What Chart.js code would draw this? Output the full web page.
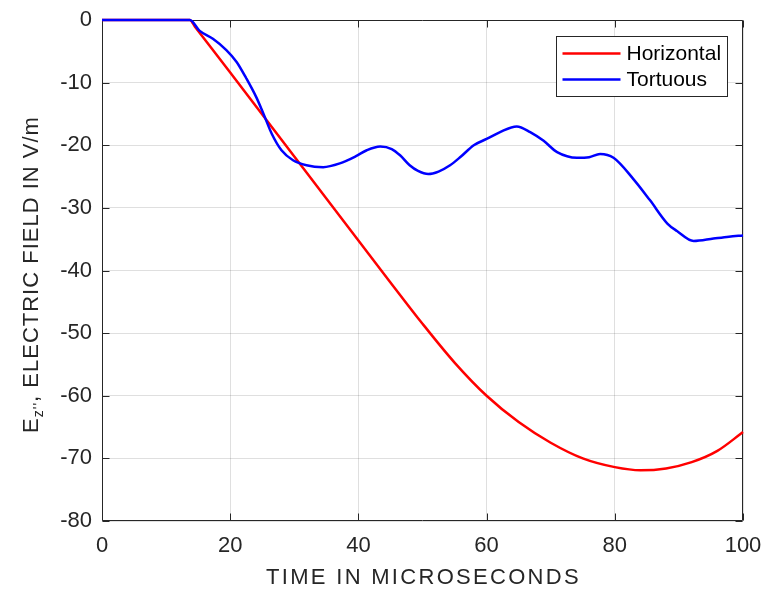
<!DOCTYPE html>
<html>
<head>
<meta charset="utf-8">
<script src="https://cdn.jsdelivr.net/npm/chart.js@4.4.1/dist/chart.umd.min.js"></script>
<style>
  html, body { margin: 0; padding: 0; background: #fff; }
  #wrap { width: 763px; height: 590px; }
</style>
</head>
<body>
<div id="wrap"><canvas id="efield"></canvas></div>
<script>
const SERIES_LABELS = ['Horizontal', 'Tortuous'];

// time in microseconds / field in V/m
const horizontalTime = [0, 13.7, 14.5, 20, 25, 30, 35, 40, 45, 50, 55, 60, 65, 70, 75, 80, 84, 88, 92, 96, 100];
const horizontalField = [0, 0, -1.07, -8.4, -15.1, -21.8, -28.5, -35.2, -41.9, -48.5, -54.7, -60.0, -64.2, -67.5, -70.0, -71.4, -71.9, -71.6, -70.6, -68.8, -65.8];

const tortuousTime = [0, 13.7, 15.2, 17.3, 19.4, 21.0, 22.5, 24.1, 25.2, 26.5, 28.0, 29.8, 31.9, 34.5, 37.1, 39.7, 41.3, 43.4, 45.2, 46.5, 48.0, 49.3, 50.9, 52.5, 54.3, 56.0, 58.0, 60.0, 62.1, 64.7, 66.8, 68.9, 71.0, 74.1, 76.0, 77.7, 79.8, 82.9, 85.5, 88.2, 89.7, 92.3, 95.4, 97.8, 100];
const tortuousField = [0, 0, -1.7, -3.0, -4.8, -6.7, -9.3, -12.4, -15.0, -18.2, -20.8, -22.4, -23.2, -23.5, -22.9, -21.7, -20.8, -20.2, -20.6, -21.6, -23.2, -24.1, -24.6, -24.2, -23.2, -21.8, -20.0, -19.0, -17.9, -17.0, -17.9, -19.3, -21.1, -22.0, -21.9, -21.4, -22.0, -25.4, -28.8, -32.5, -33.7, -35.3, -34.9, -34.6, -34.4];

const X_TICKS = [0, 20, 40, 60, 80, 100];
const Y_TICKS = [-80, -70, -60, -50, -40, -30, -20, -10, 0];

const FONT = '"Liberation Sans", Arial, Helvetica, sans-serif';
const AXIS_COLOR = '#262626';

const toPoints = (xs, ys) => xs.map((t, i) => ({ x: t, y: ys[i] }));

// MATLAB-style box, inward ticks, legend and axis titles
const matlabAxes = {
  id: 'matlabAxes',
  beforeDatasetsDraw(chart) {
    const { ctx, chartArea: a, scales } = chart;
    const L = Math.round(a.left) + 0.5, R = Math.round(a.right) - 0.5;
    const T = Math.round(a.top) + 0.5, B = Math.round(a.bottom) - 0.5;
    ctx.save();
    ctx.strokeStyle = AXIS_COLOR;
    ctx.lineWidth = 1;
    ctx.beginPath();
    ctx.rect(L, T, R - L, B - T);
    X_TICKS.forEach(v => {
      const px = Math.round(scales.x.getPixelForValue(v)) + 0.5;
      ctx.moveTo(px, B); ctx.lineTo(px, B - 7);
      ctx.moveTo(px, T); ctx.lineTo(px, T + 7);
    });
    Y_TICKS.forEach(v => {
      const py = Math.round(scales.y.getPixelForValue(v)) + 0.5;
      ctx.moveTo(L, py); ctx.lineTo(L + 7, py);
      ctx.moveTo(R, py); ctx.lineTo(R - 7, py);
    });
    ctx.stroke();
    ctx.restore();
  },
  afterDraw(chart) {
    const { ctx, chartArea: a } = chart;
    ctx.save();

    // legend
    const bw = 171, bh = 60;
    const bx = Math.round(a.right) - 16 - bw + 0.5, by = Math.round(a.top) + 16 + 0.5;
    ctx.fillStyle = '#fff';
    ctx.fillRect(bx, by, bw, bh);
    ctx.strokeStyle = AXIS_COLOR;
    ctx.lineWidth = 1;
    ctx.strokeRect(bx, by, bw, bh);
    ctx.font = '21px ' + FONT;
    ctx.textBaseline = 'middle';
    ctx.textAlign = 'left';
    chart.data.datasets.forEach((ds, i) => {
      const cy = by + 17 + i * 26;
      ctx.strokeStyle = ds.borderColor;
      ctx.lineWidth = 2.5;
      ctx.beginPath();
      ctx.moveTo(bx + 6, cy); ctx.lineTo(bx + 64, cy);
      ctx.stroke();
      ctx.fillStyle = '#000';
      ctx.fillText(ds.label, bx + 70, cy + 1);
    });

    // x title
    ctx.fillStyle = AXIS_COLOR;
    ctx.font = '22px ' + FONT;
    ctx.letterSpacing = '2.3px';
    ctx.textAlign = 'center';
    ctx.fillText('TIME IN MICROSECONDS', (a.left + a.right) / 2 + 1, 578);

    // y title with subscript
    ctx.translate(30, (a.top + a.bottom) / 2 + 4);
    ctx.rotate(-Math.PI / 2);
    ctx.letterSpacing = '1px';
    ctx.textAlign = 'left';
    ctx.textBaseline = 'alphabetic';
    const big = '22px ' + FONT, small = '14px ' + FONT;
    const rest = ', ELECTRIC FIELD IN V/m';
    ctx.font = big;
    const wE = ctx.measureText('E').width, wRest = ctx.measureText(rest).width;
    ctx.font = small;
    const wSub = ctx.measureText("z''").width;
    let x0 = -(wE + wSub + wRest) / 2;
    const base = 8;
    ctx.font = big;
    ctx.fillText('E', x0, base);
    ctx.font = small;
    ctx.fillText("z''", x0 + wE, base + 5);
    ctx.font = big;
    ctx.fillText(rest, x0 + wE + wSub, base);
    ctx.restore();
  }
};

new Chart(document.getElementById('efield'), {
  type: 'line',
  data: {
    datasets: [
      {
        label: SERIES_LABELS[0],
        data: toPoints(horizontalTime, horizontalField),
        borderColor: '#ff0000',
        clip: 4,
        order: 2
      },
      {
        label: SERIES_LABELS[1],
        data: toPoints(tortuousTime, tortuousField),
        borderColor: '#0000ff',
        clip: 4,
        order: 1
      }
    ]
  },
  plugins: [matlabAxes],
  options: {
    responsive: true,
    maintainAspectRatio: false,
    animation: false,
    devicePixelRatio: 1,
    layout: { padding: { top: 20, right: 20, left: 0, bottom: 0 } },
    elements: {
      line: { borderWidth: 2.5, fill: false, cubicInterpolationMode: 'monotone' },
      point: { radius: 0, hoverRadius: 0 }
    },
    plugins: {
      legend: { display: false },
      tooltip: { enabled: false }
    },
    scales: {
      x: {
        type: 'linear',
        min: 0,
        max: 100,
        afterBuildTicks: s => { s.ticks = X_TICKS.map(v => ({ value: v })); },
        afterFit: s => { s.height = 69; s.paddingLeft = 0; s.paddingRight = 0; },
        grid: { color: 'rgba(38,38,38,0.15)', drawTicks: false },
        border: { display: false },
        ticks: {
          color: AXIS_COLOR,
          font: { family: FONT, size: 22 },
          padding: 12,
          maxRotation: 0,
          autoSkip: false,
          callback: v => String(v)
        }
      },
      y: {
        min: -80,
        max: 0,
        afterBuildTicks: s => { s.ticks = Y_TICKS.map(v => ({ value: v })); },
        afterFit: s => { s.width = 102; s.paddingTop = 0; s.paddingBottom = 0; },
        grid: { color: 'rgba(38,38,38,0.15)', drawTicks: false },
        border: { display: false },
        ticks: {
          color: AXIS_COLOR,
          font: { family: FONT, size: 22 },
          padding: 10,
          autoSkip: false,
          callback: v => String(v)
        }
      }
    }
  }
});
</script>
</body>
</html>
